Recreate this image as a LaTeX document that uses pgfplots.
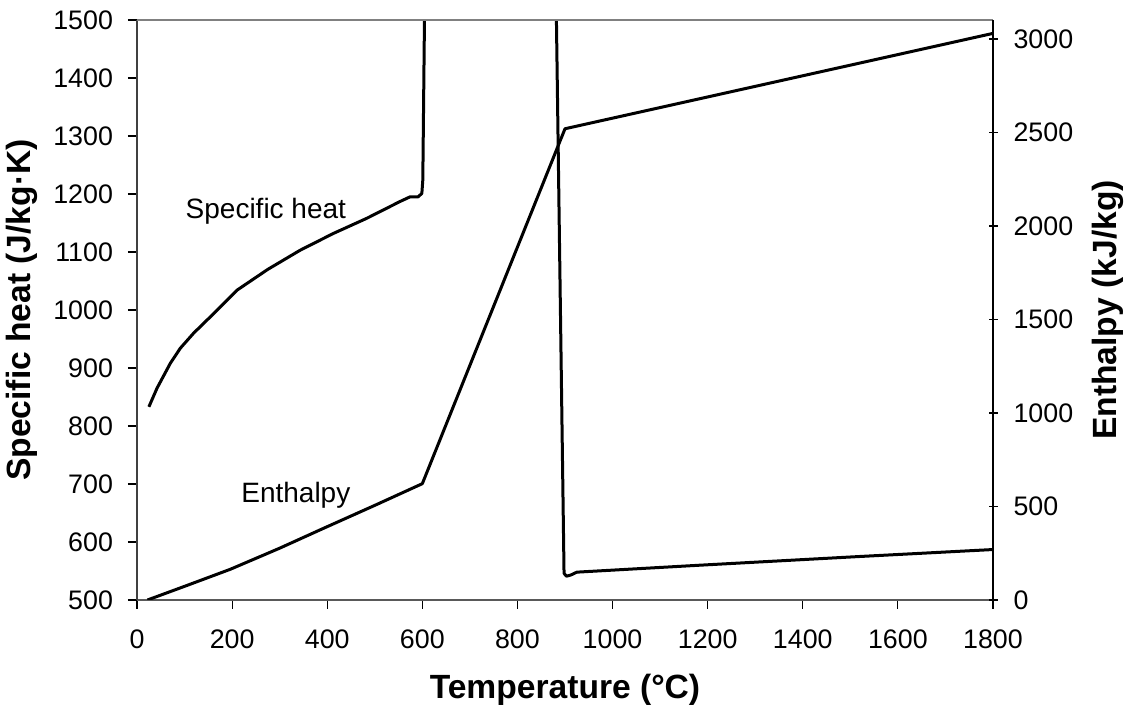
\documentclass[border=0pt]{standalone}
\usepackage{fontspec}
\setmainfont{Liberation Sans}
\usepackage{pgfplots}
\pgfplotsset{compat=1.18}
\begin{document}
\fontsize{13pt}{15pt}\selectfont
\begin{tikzpicture}
\pgfplotsset{
  common/.style={
    scale only axis, width=428pt, height=290pt,
    at={(0,0)}, anchor=south west,
    xmin=0, xmax=1800,
    /pgf/number format/assume math mode=true,
    /pgf/number format/1000 sep={},
    tick style={black, line width=0.6pt},
    major tick length=4.5pt,
    tick label style={font=\fontsize{13.4pt}{15pt}\selectfont},
    label style={font=\bfseries\fontsize{16.8pt}{19pt}\selectfont},
  }
}
\begin{axis}[common,
  ymin=500, ymax=1500,
  ytick={500,600,...,1500},
  xtick={0,200,...,1800},
  axis x line*=bottom, axis y line*=left,
  tick align=outside,
  x axis line style={-, draw=black!65, line width=0.9pt},
  y axis line style={-, draw=black!75, line width=0.9pt},
  yticklabel style={xshift=-3pt},
  xticklabel style={yshift=-6pt},
  xlabel={Temperature (°C)},
  ylabel={Specific heat (J/kg·K)},
  xlabel style={at={(axis description cs:0.5,-0.155)}, anchor=center},
  ylabel style={at={(axis description cs:-0.134,0.5)}, anchor=center},
]
\addplot[black, line width=1.5pt, line join=round] coordinates {
(25,833) (42,865) (70,908) (91,934) (119,960) (154,988) (210,1034)
(275,1070) (343,1103) (413,1132) (483,1158) (553,1187) (574,1195)
(591,1195) (599,1201) (601,1224) (605,1540) (881.3,1540)
(898,546) (903,541) (912,543) (925,548) (1184,560) (1520,575) (1800,587)
};
\draw[black!50, line width=0.9pt] (rel axis cs:0,1) -- (rel axis cs:1,1);
\node[font=\fontsize{14pt}{16pt}\selectfont] at (axis cs:271,1171) {Specific heat};
\node[font=\fontsize{14pt}{16pt}\selectfont] at (axis cs:334,681) {Enthalpy};
\end{axis}
\begin{axis}[common,
  ymin=0, ymax=3101.6,
  ytick={0,500,...,3000},
  axis x line=none, axis y line*=right,
  tick align=center,
  y axis line style={-, draw=black, line width=0.9pt},
  yticklabel style={xshift=3.5pt},
  ylabel={Enthalpy (kJ/kg)},
  ylabel style={at={(axis description cs:1.134,0.5)}, anchor=center, rotate=0},
]
\addplot[black, line width=1.5pt, line join=round] coordinates {
(22,0) (100,73) (196,164) (300,277) (392,383) (500,506) (600,622)
(900,2520) (1800,3030)
};
\end{axis}
\pgfresetboundingbox
\useasboundingbox (-68.5pt,-52.5pt) rectangle (494.5pt,300pt);
\end{tikzpicture}
\end{document}
